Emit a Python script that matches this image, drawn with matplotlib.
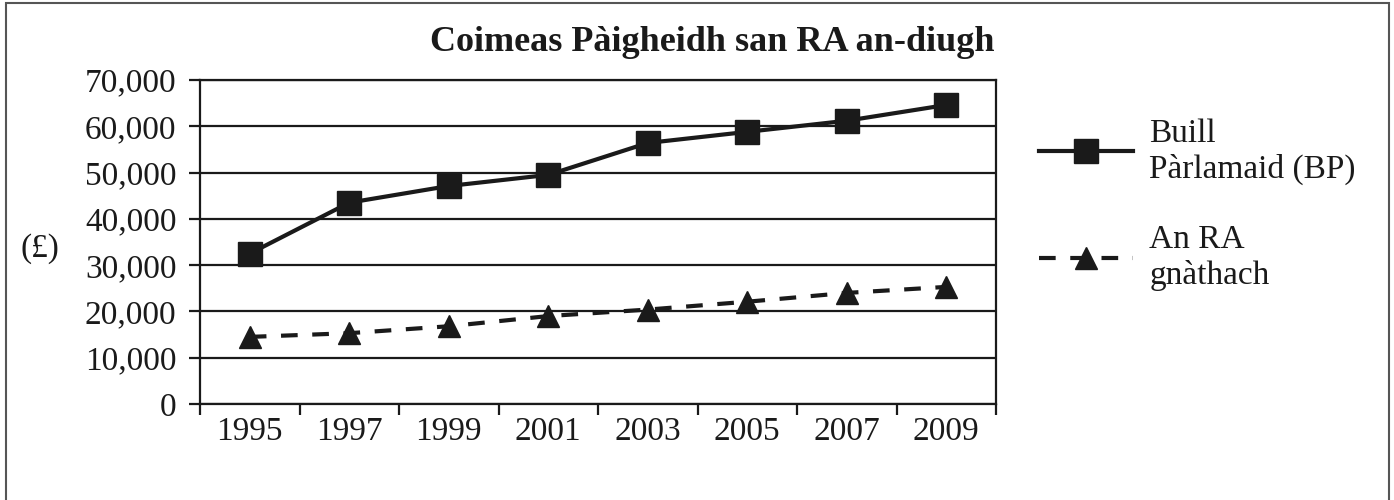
import matplotlib
matplotlib.use("Agg")
import matplotlib.pyplot as plt
from matplotlib.patches import Rectangle
from matplotlib.ticker import FuncFormatter, FixedLocator

plt.rcParams['font.family'] = ['Liberation Serif', 'DejaVu Serif']

years = ["1995", "1997", "1999", "2001", "2003", "2005", "2007", "2009"]
mp_pay = [32500, 43500, 47100, 49500, 56400, 58800, 61200, 64600]
avg_pay = [14500, 15300, 16800, 19000, 20400, 22100, 24000, 25300]
series_names = ["Buill\nPàrlamaid (BP)", "An RA\ngnàthach"]
title = "Coimeas Pàigheidh san RA an-diugh"
ylabel = "(£)"

FS = 24
fig = plt.figure(figsize=(13.94, 5.0), dpi=100)
ax = fig.add_axes([0.1435, 0.192, 0.571, 0.648])

x = list(range(len(years)))
ax.plot(x, mp_pay, color='#1a1a1a', lw=3.0, marker='s', markersize=17,
        label=series_names[0], zorder=3)
ax.plot(x, avg_pay, color='#1a1a1a', lw=3.0, ls=(0, (4, 3.5)), marker='^',
        markersize=16, label=series_names[1], zorder=3)

ax.set_ylim(0, 70000)
ax.set_xlim(-0.5, len(years) - 0.5)
ax.set_yticks(range(0, 70001, 10000))
ax.yaxis.set_major_formatter(FuncFormatter(lambda v, p: f"{int(v):,}"))
ax.yaxis.grid(True, color='#1a1a1a', lw=1.6)
ax.set_axisbelow(True)

ax.xaxis.set_major_locator(FixedLocator([i - 0.5 for i in range(len(years) + 1)]))
ax.xaxis.set_major_formatter(FuncFormatter(lambda v, p: ""))
ax.xaxis.set_minor_locator(FixedLocator(x))
ax.set_xticklabels(years, minor=True)
ax.tick_params(axis='x', which='minor', length=0, labelsize=FS, pad=9)
ax.tick_params(axis='x', which='major', length=8, width=1.6, direction='out', color='#1a1a1a')
ax.tick_params(axis='y', length=8, width=1.6, direction='out', labelsize=FS, pad=9, color='#1a1a1a')
for lab in ax.get_xticklabels(minor=True) + ax.get_yticklabels():
    lab.set_color('#1a1a1a')

for s in ax.spines.values():
    s.set_linewidth(1.6)
    s.set_color('#1a1a1a')

fig.text(0.511, 0.915, title, ha='center', va='center', fontsize=26,
         fontweight='bold', color='#1a1a1a')
fig.text(0.029, 0.502, ylabel, ha='center', va='center', fontsize=FS, color='#1a1a1a')

leg = fig.legend(loc='upper left', bbox_to_anchor=(0.724, 0.824), frameon=False,
                 fontsize=FS, handlelength=2.8, handletextpad=0.5, labelspacing=1.2,
                 labelcolor='#1a1a1a')

fig.patches.append(Rectangle((6 / 1394, -0.05), 1383 / 1394, 1 - 3 / 500 + 0.05,
                             transform=fig.transFigure, fill=False,
                             edgecolor='#555555', lw=1.5))

fig.savefig("out.png", dpi=100)
